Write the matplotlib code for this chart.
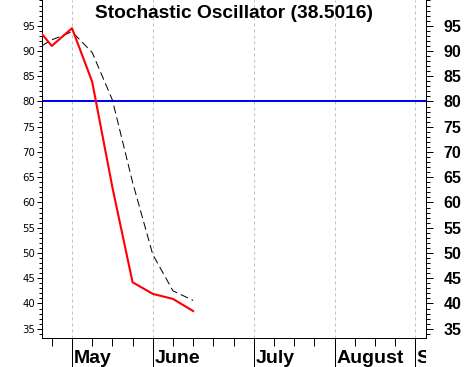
import matplotlib
matplotlib.use("Agg")
import matplotlib.pyplot as plt
import matplotlib.transforms as mtransforms
from matplotlib.ticker import FixedLocator, MultipleLocator, NullFormatter

plt.rcParams['font.family'] = ['Liberation Sans', 'DejaVu Sans']

# ---- data (x in weeks; 0 = first weekly tick) ----
week_pos = [-0.5, 0, 1, 2, 3, 4, 5, 6, 7]
k_values = [93.4, 91.0, 94.5, 83.9, 63.0, 44.2, 41.9, 40.9, 38.5]
d_values = [91.0, 92.2, 93.8, 89.7, 80.3, 64.0, 49.7, 42.5, 40.6]
month_labels = ['May', 'June', 'July', 'August', 'S']
month_pos = [1, 5, 10, 14, 18]
week_ticks = list(range(0, 19))
y_ticks = [35, 40, 45, 50, 55, 60, 65, 70, 75, 80, 85, 90, 95]
overbought = 80
title = 'Stochastic Oscillator (38.5016)'

W, H = 467, 367
fig = plt.figure(figsize=(W / 100, H / 100), dpi=100)
x0, x1, yb = 41.7, 426.0, 338.0
ax = fig.add_axes([x0 / W, 1 - yb / H, (x1 - x0) / W, yb / H])
ax.set_xlim(-0.5, 18.53)
ax.set_ylim(33.16, 100.09)

px = 0.72  # points per pixel

# grid (vertical, months)
ax.set_xticks(month_pos)
ax.xaxis.set_minor_locator(FixedLocator(week_ticks))
ax.xaxis.set_major_formatter(NullFormatter())
ax.grid(True, axis='x', which='major', color='#c0c0c0',
        linestyle=(0, (3, 3)), linewidth=1 * px)
ax.tick_params(axis='x', which='major', length=29 * px, width=1 * px,
               direction='out')
ax.tick_params(axis='x', which='minor', length=7.5 * px, width=1 * px,
               direction='out')

# left y axis
ax.yaxis.set_major_locator(FixedLocator(y_ticks))
ax.yaxis.set_minor_locator(MultipleLocator(1))
ax.tick_params(axis='y', which='major', length=5.5 * px, width=1 * px,
               direction='out', pad=1 * px, labelsize=7.3)
ax.tick_params(axis='y', which='minor', length=3 * px, width=1 * px,
               direction='out')
for lab in ax.get_yticklabels():
    lab.set_family('DejaVu Sans')

ax.spines['top'].set_visible(False)
for s in ['left', 'right', 'bottom']:
    ax.spines[s].set_linewidth(1 * px)

# right y axis
ax2 = ax.twinx()
ax2.set_ylim(ax.get_ylim())
ax2.yaxis.set_major_locator(FixedLocator(y_ticks))
ax2.yaxis.set_minor_locator(MultipleLocator(1))
ax2.tick_params(axis='y', which='major', length=7 * px, width=1 * px,
                direction='out', pad=7.5, labelsize=11.5)
ax2.tick_params(axis='y', which='minor', length=4 * px, width=1 * px,
                direction='out')
for lab in ax2.get_yticklabels():
    lab.set_fontweight('bold')
for s in ['top', 'left']:
    ax2.spines[s].set_visible(False)
ax2.spines['right'].set_linewidth(1 * px)
ax2.spines['bottom'].set_visible(False)

# lines
ax.axhline(overbought, color='#0000ff', linewidth=2 * px, zorder=2)
ax.plot(week_pos, d_values, color='black', linewidth=1 * px,
        dashes=(8, 4), zorder=3)
ax.plot(week_pos, k_values, color='#ff0000', linewidth=2.1 * px, zorder=4)

# title
ttrans = ax.transAxes + mtransforms.ScaledTranslation(0, -5 / 100, fig.dpi_scale_trans)
ax.text(0.5, 1.0, title, transform=ttrans, ha='center', va='top',
        fontsize=13.8, fontweight='bold')

# month labels
mtrans = ax.get_xaxis_transform() + mtransforms.ScaledTranslation(
    1.5 / 100, -12 / 100, fig.dpi_scale_trans)
clip = mtransforms.TransformedBbox(mtransforms.Bbox([[0, -1], [1, 1]]), ax.transAxes)
for p, lab in zip(month_pos, month_labels):
    t = ax.text(p, 0, lab, transform=mtrans, ha='left', va='top',
                fontsize=14, fontweight='bold')
    t.set_clip_path(None)
    t.set_clip_box(clip)
    t.set_clip_on(True)

fig.savefig('out.png', dpi=100, facecolor='white')
